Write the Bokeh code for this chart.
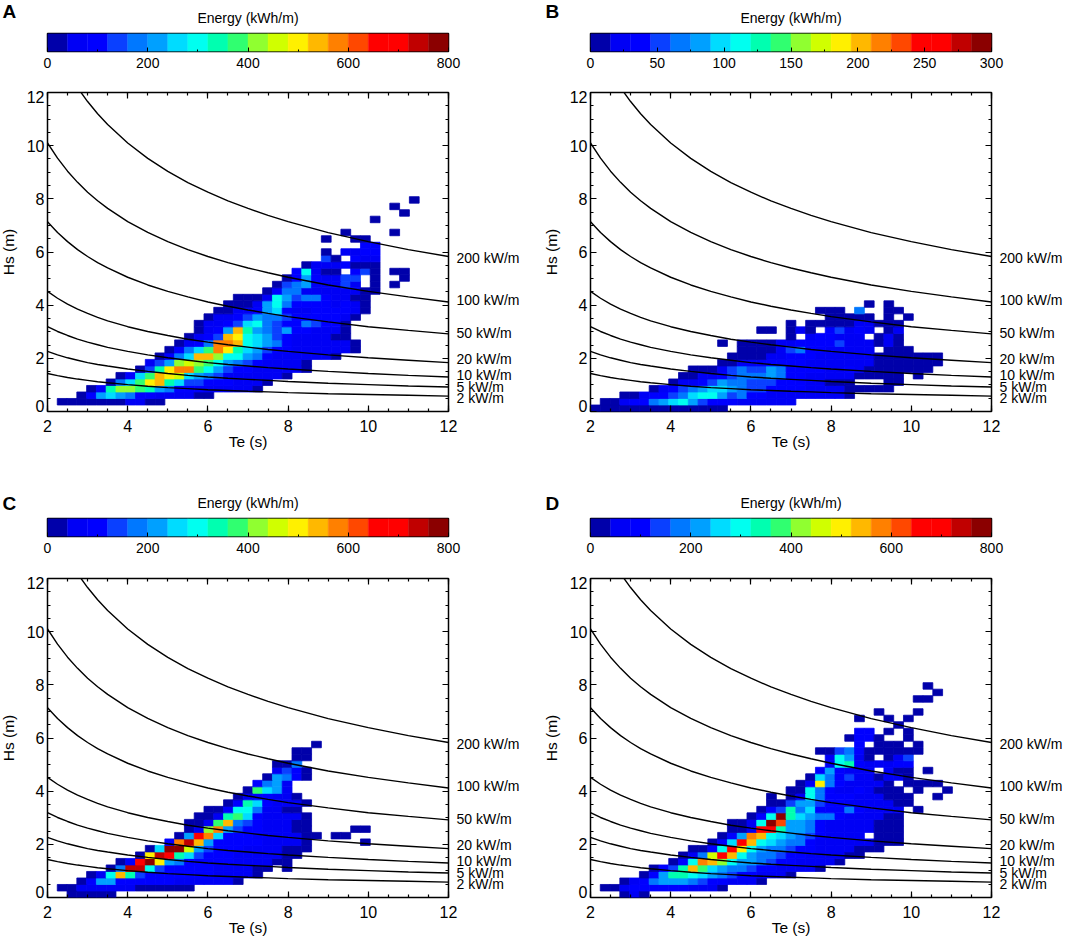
from bokeh.embed import file_html
from bokeh.layouts import column, row
from bokeh.models import ColumnDataSource, FixedTicker, LinearAxis, LinearColorMapper, Range1d
from bokeh.plotting import figure
from bokeh.resources import INLINE

FONT = "Liberation Sans"

# colour levels of the bar, low to high
palette = ["#0000AA", "#0000F5", "#0000FF", "#0A40FF", "#0078FF", "#00A0FF", "#00DCFF", "#00FFF0", "#00FFB0", "#30FF70",
           "#90FF30", "#D0FF00", "#FFF000", "#FFB800", "#FF8000", "#FF4800", "#FF0000", "#FF0000", "#C00000", "#8B0000"]

# iso-power curves (same in all four)
te_curve = [2, 2.25, 2.5, 2.75, 3, 3.25, 3.5, 4, 4.5, 5, 5.5, 6, 6.5, 7, 7.5, 8, 9, 10, 11, 12]
hs_200kw = [14.28, 13.47, 12.78, 12.18, 11.66, 11.20, 10.80, 10.10, 9.52, 9.03, 8.61, 8.25, 7.92, 7.64, 7.38, 7.14, 6.73, 6.39, 6.09, 5.83]
hs_100kw = [10.10, 9.53, 9.04, 8.62, 8.25, 7.93, 7.64, 7.14, 6.74, 6.39, 6.09, 5.83, 5.60, 5.40, 5.22, 5.05, 4.76, 4.52, 4.31, 4.12]
hs_50kw = [7.14, 6.73, 6.39, 6.09, 5.83, 5.60, 5.40, 5.05, 4.76, 4.52, 4.31, 4.12, 3.96, 3.82, 3.69, 3.57, 3.37, 3.19, 3.05, 2.92]
hs_20kw = [4.52, 4.26, 4.04, 3.85, 3.69, 3.54, 3.41, 3.19, 3.01, 2.86, 2.72, 2.61, 2.51, 2.42, 2.33, 2.26, 2.13, 2.02, 1.93, 1.84]
hs_10kw = [3.19, 3.01, 2.86, 2.72, 2.61, 2.51, 2.41, 2.26, 2.13, 2.02, 1.93, 1.84, 1.77, 1.71, 1.65, 1.60, 1.51, 1.43, 1.36, 1.30]
hs_5kw = [2.26, 2.13, 2.02, 1.93, 1.84, 1.77, 1.71, 1.60, 1.51, 1.43, 1.36, 1.30, 1.25, 1.21, 1.17, 1.13, 1.06, 1.01, 0.96, 0.92]
hs_2kw = [1.43, 1.35, 1.28, 1.22, 1.17, 1.12, 1.08, 1.01, 0.95, 0.90, 0.86, 0.82, 0.79, 0.76, 0.74, 0.71, 0.67, 0.64, 0.61, 0.58]

power_labels = ["200 kW/m", "100 kW/m", "50 kW/m", "20 kW/m", "10 kW/m", "5 kW/m", "2 kW/m"]
power_label_hs = [5.79, 4.18, 2.97, 1.99, 1.39, 0.94, 0.49]

# the first and last Hs labels sit inside the frame, not on their ticks
hs_label_at = [0.2, 2, 4, 6, 8, 10, 11.82]
hs_label_text = ["0", "2", "4", "6", "8", "10", "12"]

# each panel: first Te bin of every Hs row, then the energy in that row (0 = empty bin)
te_first_a = [0, 1, 3, 4, 6, 7, 9, 10, 11, 12, 13, 14, 15, 15, 16, 17, 18, 19, 22, 23, 24, 25, 26, 28, 28, 32, 28, 30, 0, 33, 36, 35, 37]
energy_a = [
    [],
    [20, 20, 20, 20, 20, 20, 20, 60, 60, 20, 20],
    [20, 100, 220, 260, 220, 180, 100, 100, 60, 60, 60, 60, 20, 20],
    [20, 100, 340, 420, 420, 380, 340, 220, 180, 100, 100, 100, 60, 60, 60, 60, 60, 20],
    [20, 180, 260, 380, 500, 540, 340, 260, 140, 140, 100, 100, 100, 60, 60, 60, 20],
    [20, 100, 260, 380, 540, 500, 460, 260, 220, 180, 140, 60, 60, 60, 60, 60, 60, 20],
    [20, 140, 340, 500, 580, 580, 380, 300, 220, 140, 100, 100, 60, 60, 60, 60, 60, 20],
    [60, 140, 220, 420, 460, 420, 380, 300, 220, 180, 140, 100, 60, 60, 60, 60, 20],
    [20, 100, 180, 260, 540, 540, 420, 300, 300, 220, 180, 100, 60, 60, 60, 60, 60, 60, 20],
    [20, 100, 180, 260, 380, 580, 500, 340, 260, 220, 140, 100, 100, 60, 60, 60, 60, 60, 60, 20],
    [20, 60, 100, 180, 580, 580, 540, 300, 260, 220, 180, 100, 60, 60, 60, 60, 60, 60, 20],
    [20, 60, 100, 140, 540, 500, 300, 260, 220, 140, 100, 60, 60, 60, 60, 20, 20],
    [20, 60, 100, 220, 540, 340, 220, 180, 140, 220, 100, 100, 60, 60, 60, 20],
    [20, 60, 60, 100, 140, 260, 300, 180, 140, 100, 100, 180, 140, 100, 100, 20],
    [20, 60, 60, 100, 140, 220, 180, 180, 140, 100, 100, 100, 100, 100, 60, 20],
    [20, 20, 60, 60, 100, 220, 260, 100, 60, 60, 100, 100, 100, 100, 60, 20],
    [20, 20, 20, 60, 220, 300, 180, 100, 100, 100, 100, 60, 100, 60, 20],
    [20, 20, 20, 60, 300, 220, 140, 180, 180, 100, 60, 60, 20, 20],
    [20, 100, 180, 180, 60, 60, 60, 60, 60, 60, 20, 20],
    [20, 140, 180, 220, 60, 60, 60, 140, 60, 0, 20, 0, 20],
    [20, 100, 220, 100, 60, 60, 140, 140, 0, 20, 0, 0, 20],
    [100, 300, 60, 20, 20, 0, 100, 140, 20, 0, 20, 20],
    [20, 60, 60, 60, 100, 20, 20, 20],
    [140, 20, 0, 100, 60, 60],
    [20, 0, 60, 60, 100, 100],
    [100, 100],
    [20, 0, 0, 20, 20],
    [20, 0, 0, 0, 0, 20],
    [],
    [20],
    [20],
    [20],
    [20],
]

te_first_b = [0, 1, 3, 6, 8, 9, 10, 13, 14, 15, 13, 20, 17, 20, 24, 23, 28]
energy_b = [
    [8, 8, 8, 8, 8, 8, 8, 8, 8, 8, 8, 8, 8, 8],
    [8, 8, 22, 38, 38, 68, 82, 98, 112, 82, 52, 38, 38, 38, 22, 22, 22, 22, 22, 22],
    [8, 8, 22, 38, 38, 52, 68, 98, 112, 112, 82, 52, 68, 38, 38, 22, 22, 22, 22, 22, 22, 22, 22, 8],
    [8, 22, 38, 52, 68, 82, 98, 98, 82, 68, 52, 52, 38, 38, 38, 38, 22, 22, 22, 22, 8, 8, 8, 8, 8],
    [8, 22, 22, 38, 52, 82, 68, 68, 52, 52, 52, 38, 38, 38, 22, 22, 8, 8, 8, 0, 0, 0, 8, 8],
    [8, 8, 22, 22, 38, 52, 68, 68, 68, 82, 68, 38, 38, 22, 22, 22, 22, 22, 8, 8, 8, 8, 8, 0, 8],
    [8, 8, 8, 22, 52, 68, 52, 52, 82, 68, 38, 38, 38, 38, 22, 22, 38, 22, 8, 8, 8, 8, 8, 8, 8],
    [8, 8, 22, 22, 22, 38, 38, 38, 38, 22, 22, 22, 22, 22, 22, 22, 8, 8, 8, 8, 8, 8, 8],
    [8, 8, 8, 8, 22, 22, 38, 38, 38, 22, 22, 22, 22, 22, 22, 8, 8, 8, 8, 8, 8, 8],
    [8, 8, 8, 8, 22, 52, 68, 38, 38, 22, 22, 22, 22, 22, 0, 8, 8, 8],
    [8, 0, 8, 8, 8, 8, 22, 22, 38, 38, 38, 38, 52, 22, 22, 22, 8, 22, 8],
    [8, 0, 22, 38, 38, 22, 22, 22, 0, 8, 22, 8],
    [8, 8, 0, 8, 22, 8, 0, 38, 52, 22, 38, 22, 0, 8, 22],
    [8, 0, 8, 8, 8, 8, 8, 22, 22, 8, 8, 8],
    [8, 8, 8, 8, 8, 0, 8, 0, 8],
    [8, 8, 8, 0, 68, 0, 0, 8, 8],
    [8, 0, 8],
]

te_first_c = [2, 1, 3, 4, 6, 7, 9, 10, 12, 13, 14, 14, 15, 16, 18, 19, 20, 21, 22, 23, 23, 25, 25, 27]
energy_c = [
    [20, 20, 20, 20, 20],
    [20, 20, 60, 60, 60, 60, 60, 60, 20, 20, 20, 20, 20, 20],
    [20, 100, 220, 220, 100, 100, 100, 100, 100, 100, 60, 60, 60, 60, 60, 60, 20],
    [20, 60, 300, 540, 340, 140, 100, 100, 100, 100, 100, 100, 100, 60, 60, 60, 60, 20],
    [20, 180, 740, 740, 300, 140, 100, 100, 100, 100, 100, 60, 60, 60, 60, 20, 20, 0, 20],
    [20, 100, 660, 780, 500, 220, 180, 100, 100, 100, 100, 100, 60, 60, 60, 60, 20, 20],
    [20, 500, 740, 700, 340, 260, 140, 100, 100, 100, 60, 60, 60, 60, 60, 20, 20],
    [20, 260, 780, 780, 460, 220, 140, 100, 100, 100, 60, 60, 60, 60, 20, 20, 20],
    [100, 580, 740, 540, 220, 100, 100, 100, 100, 100, 60, 60, 60, 60, 20, 0, 0, 0, 0, 0, 20],
    [20, 220, 660, 580, 260, 100, 100, 100, 60, 60, 60, 60, 60, 20, 20, 0, 20, 20],
    [20, 60, 420, 580, 220, 140, 100, 100, 60, 60, 60, 20, 20, 0, 0, 0, 0, 20, 20],
    [20, 20, 60, 380, 540, 180, 140, 100, 60, 60, 60, 20, 20],
    [20, 20, 60, 340, 380, 260, 100, 60, 60, 60, 60, 20],
    [20, 20, 100, 300, 300, 180, 60, 60, 20, 20],
    [20, 100, 340, 260, 100, 60, 60, 60, 20],
    [20, 60, 100, 100, 60, 60, 20],
    [20, 380, 260, 220, 60],
    [100, 180, 220, 60],
    [20, 220, 180, 100, 20],
    [60, 140, 100, 20],
    [20, 20, 180],
    [20, 20],
    [20, 20],
    [20],
]

te_first_d = [3, 1, 3, 5, 6, 8, 9, 10, 12, 13, 14, 14, 16, 17, 18, 18, 20, 21, 22, 23, 24, 24, 23, 27, 26, 27, 31, 27, 29, 0, 33, 35, 34]
energy_d = [
    [20, 60, 20],
    [20, 20, 60, 100, 100, 100, 100, 100, 100, 60, 60, 60, 20],
    [20, 60, 100, 180, 220, 220, 220, 180, 140, 100, 100, 60, 60, 60, 20],
    [20, 100, 220, 340, 340, 300, 260, 220, 180, 140, 100, 100, 60, 60, 60, 20],
    [20, 100, 140, 340, 540, 380, 260, 220, 180, 180, 140, 100, 100, 60, 60, 60, 60, 20],
    [20, 100, 300, 580, 540, 420, 300, 220, 220, 180, 140, 100, 100, 60, 60, 60, 60, 20],
    [20, 60, 180, 460, 660, 540, 300, 220, 180, 180, 140, 100, 100, 60, 60, 60, 60, 20, 20],
    [20, 20, 100, 300, 660, 500, 300, 220, 180, 180, 140, 100, 100, 60, 60, 60, 60, 20, 20, 20],
    [20, 100, 260, 660, 540, 300, 260, 220, 180, 180, 100, 60, 60, 60, 60, 60, 60, 20, 20, 20],
    [20, 100, 220, 580, 540, 300, 260, 220, 180, 140, 100, 60, 60, 60, 60, 0, 20, 20, 20],
    [20, 20, 60, 660, 660, 340, 220, 220, 180, 100, 60, 60, 60, 60, 60, 20, 20, 20],
    [20, 20, 60, 300, 780, 620, 220, 220, 180, 100, 60, 60, 60, 60, 60, 20, 20, 20],
    [20, 100, 300, 780, 340, 260, 220, 180, 180, 100, 60, 60, 60, 60, 20, 20],
    [20, 100, 140, 340, 180, 260, 100, 100, 100, 180, 100, 60, 60, 60, 60, 0, 20],
    [20, 20, 140, 220, 220, 140, 100, 100, 60, 60, 60, 60, 60, 20, 20],
    [20, 0, 20, 60, 300, 180, 100, 100, 100, 60, 60, 60, 20, 20, 20, 0, 0, 20],
    [20, 20, 300, 180, 100, 60, 60, 100, 60, 20, 20, 20, 0, 20, 0, 0, 20],
    [20, 60, 500, 180, 100, 60, 60, 60, 60, 20, 0, 20, 20, 20, 20],
    [20, 260, 180, 100, 140, 60, 60, 20, 60, 60, 20],
    [100, 220, 100, 60, 60, 60, 0, 60, 20, 20, 0, 20],
    [60, 300, 340, 100, 60, 60, 60, 100, 100],
    [60, 300, 220, 60, 20, 0, 20, 60, 140],
    [20, 20, 140, 180, 100, 20, 20, 20, 20, 20, 20],
    [100, 0, 20, 20, 20, 0, 20],
    [20, 100, 100, 20, 0, 0, 20],
    [100, 100, 0, 20, 0, 20],
    [20],
    [20, 0, 0, 20, 0, 20],
    [20, 0, 0, 0, 20],
    [],
    [20, 20],
    [20],
    [20],
]

# bin size of the grid behind the picture
TE_BIN = 10 / 41
HS_BIN = 12 / 49

LETTER_WIDTH = 22
FRAME_LEFT = 47
# the left axes need a little more room than the frame's position leaves, so the figure starts off its slot
LEFT_OVERHANG = 5


def add_box_axes(p, ticks, minor):
    right = LinearAxis()
    top = LinearAxis()
    p.add_layout(right, "right")
    p.add_layout(top, "above")
    for ax in p.below + p.left + p.right + p.above:
        ax.ticker = FixedTicker(ticks=ticks, minor_ticks=minor)
        ax.axis_line_color = None
        ax.major_tick_line_color = "black"
        ax.minor_tick_line_color = "black"
        ax.major_tick_line_width = 1.2
        ax.minor_tick_line_width = 1.2
        ax.major_tick_in = 6
        ax.major_tick_out = 0
        ax.minor_tick_in = 3
        ax.minor_tick_out = 0
        ax.major_label_text_font = FONT
        ax.major_label_text_font_size = "16px"
        ax.major_label_text_color = "black"
    for ax in (right, top, p.left[0]):
        ax.major_label_overrides = {t: "" for t in ticks}
        ax.major_label_text_font_size = "1px"
        ax.major_label_standoff = 0


def add_hs_labels(p):
    ax = LinearAxis(ticker=FixedTicker(ticks=hs_label_at), major_label_overrides=dict(zip(hs_label_at, hs_label_text)))
    ax.axis_line_color = None
    ax.major_tick_line_color = None
    ax.minor_tick_line_color = None
    ax.major_tick_in = 0
    ax.major_tick_out = 0
    ax.major_label_standoff = 3
    ax.major_label_text_font = FONT
    ax.major_label_text_font_size = "16px"
    ax.major_label_text_color = "black"
    ax.axis_label = "Hs (m)"
    ax.axis_label_text_font = FONT
    ax.axis_label_text_font_size = "15.5px"
    ax.axis_label_text_font_style = "normal"
    ax.axis_label_text_color = "black"
    ax.axis_label_standoff = 7
    p.add_layout(ax, "left")


def add_power_labels(p):
    ax = LinearAxis(ticker=FixedTicker(ticks=power_label_hs), major_label_overrides=dict(zip(power_label_hs, power_labels)))
    ax.axis_line_color = None
    ax.major_tick_line_color = None
    ax.minor_tick_line_color = None
    ax.major_tick_in = 0
    ax.major_tick_out = 0
    ax.major_label_standoff = 8
    ax.major_label_text_font = FONT
    ax.major_label_text_font_size = "14px"
    ax.major_label_text_color = "black"
    p.add_layout(ax, "right")


def make_main(te_first, energy, low, high, top_border, bottom_border, canvas_width):
    p = figure(width=canvas_width + LEFT_OVERHANG, height=319 + top_border + bottom_border, x_range=Range1d(2, 12),
               y_range=Range1d(0, 12), toolbar_location=None, output_backend="svg",
               min_border_left=FRAME_LEFT + LEFT_OVERHANG, min_border_top=top_border, min_border_bottom=bottom_border,
               min_border_right=canvas_width - FRAME_LEFT - LEFT_OVERHANG - 401, margin=(0, 0, 0, -LEFT_OVERHANG))
    p.grid.visible = False
    p.outline_line_color = "black"
    p.outline_line_width = 1.5
    add_box_axes(p, [0, 2, 4, 6, 8, 10, 12], [0.5 * i for i in range(25)])
    add_hs_labels(p)
    add_power_labels(p)
    te_axis = p.below[0]
    te_axis.axis_label = "Te (s)"
    te_axis.axis_label_text_font = FONT
    te_axis.axis_label_text_font_size = "15.5px"
    te_axis.axis_label_text_font_style = "normal"
    te_axis.axis_label_text_color = "black"
    te_axis.axis_label_standoff = -2
    te_axis.major_label_standoff = 8

    left, right, bottom, top, values = [], [], [], [], []
    for r, cells in enumerate(energy):
        for i, e in enumerate(cells):
            if e == 0:
                continue
            c = te_first[r] + i
            left.append(2 + c * TE_BIN)
            right.append(2 + (c + 1) * TE_BIN)
            bottom.append(r * HS_BIN)
            top.append((r + 1) * HS_BIN)
            values.append(e)
    src = ColumnDataSource(dict(left=left, right=right, bottom=bottom, top=top, energy=values))
    mapper = LinearColorMapper(palette=palette, low=low, high=high)
    p.quad(left="left", right="right", bottom="bottom", top="top", source=src,
           fill_color={"field": "energy", "transform": mapper},
           line_color={"field": "energy", "transform": mapper}, line_width=0.8)

    for hs in (hs_200kw, hs_100kw, hs_50kw, hs_20kw, hs_10kw, hs_5kw, hs_2kw):
        p.line(te_curve, hs, color="black", line_width=1.4)
    return p


def make_letter(letter, letter_shift):
    p = figure(width=LETTER_WIDTH, height=80, x_range=Range1d(0, 1), y_range=Range1d(0, 1), toolbar_location=None,
               output_backend="svg", title=letter, min_border_left=0, min_border_right=0, min_border_top=23, min_border_bottom=0,
               margin=(letter_shift, 0, 0, 0))
    p.axis.visible = False
    p.grid.visible = False
    p.outline_line_color = None
    p.title.align = "left"
    p.title.offset = 2
    p.title.text_font = FONT
    p.title.text_font_size = "19px"
    p.title.text_font_style = "bold"
    p.title.text_color = "black"
    return p


def make_bar(low, high, major_step, total_width):
    step = (high - low) / len(palette)
    edges = [low + step * i for i in range(len(palette) + 1)]
    p = figure(width=total_width, height=80, x_range=Range1d(low, high), y_range=Range1d(0, 1),
               toolbar_location=None, output_backend="svg",
               min_border_left=FRAME_LEFT - LETTER_WIDTH, min_border_top=32, min_border_bottom=29,
               min_border_right=total_width - FRAME_LEFT + LETTER_WIDTH - 401)
    p.grid.visible = False
    p.yaxis.visible = False
    p.outline_line_color = "black"
    p.outline_line_width = 1.5
    p.quad(left=edges[:-1], right=edges[1:], bottom=0, top=1, fill_color=palette, line_color=palette, line_width=0.4)

    ax = p.below[0]
    n_major = int(round((high - low) / major_step))
    ax.ticker = FixedTicker(ticks=[low + major_step * i for i in range(n_major + 1)],
                            minor_ticks=[low + major_step * i / 2 for i in range(2 * n_major + 1)])
    ax.axis_line_color = None
    ax.major_tick_in = 4
    ax.major_tick_out = 0
    ax.minor_tick_in = 2
    ax.minor_tick_out = 0
    ax.major_tick_line_color = "black"
    ax.minor_tick_line_color = "black"
    ax.major_label_text_font = FONT
    ax.major_label_text_font_size = "14px"
    ax.major_label_text_color = "black"
    ax.major_label_standoff = 6

    # the bar's heading is the label of an axis without ticks above it
    head = LinearAxis(ticker=FixedTicker(ticks=[]), axis_label="Energy (kWh/m)")
    head.axis_line_color = None
    head.major_tick_line_color = None
    head.minor_tick_line_color = None
    head.axis_label_text_font = FONT
    head.axis_label_text_font_size = "14px"
    head.axis_label_text_font_style = "normal"
    head.axis_label_text_color = "black"
    head.axis_label_standoff = 8
    p.add_layout(head, "above")
    return p


def make_panel(letter, te_first, energy, high, major_step, letter_shift, top_border, bottom_border, total_width, canvas_width):
    tag = make_letter(letter, letter_shift)
    bar = make_bar(0, high, major_step, total_width - LETTER_WIDTH)
    main = make_main(te_first, energy, 0, high, top_border, bottom_border, canvas_width)
    return column(row(tag, bar), main)


panel_a = make_panel("A", te_first_a, energy_a, 800, 200, -7, 12, 74, 543, 543)
panel_b = make_panel("B", te_first_b, energy_b, 300, 50, -7, 12, 74, 522, 527)
panel_c = make_panel("C", te_first_c, energy_c, 800, 200, 0, 13, 42, 543, 543)
panel_d = make_panel("D", te_first_d, energy_d, 800, 200, 0, 13, 42, 522, 527)

page = column(row(panel_a, panel_b), row(panel_c, panel_d), styles={"max-width": "1065px", "overflow": "hidden"})

open("out.html", "w").write(file_html(page, INLINE))
